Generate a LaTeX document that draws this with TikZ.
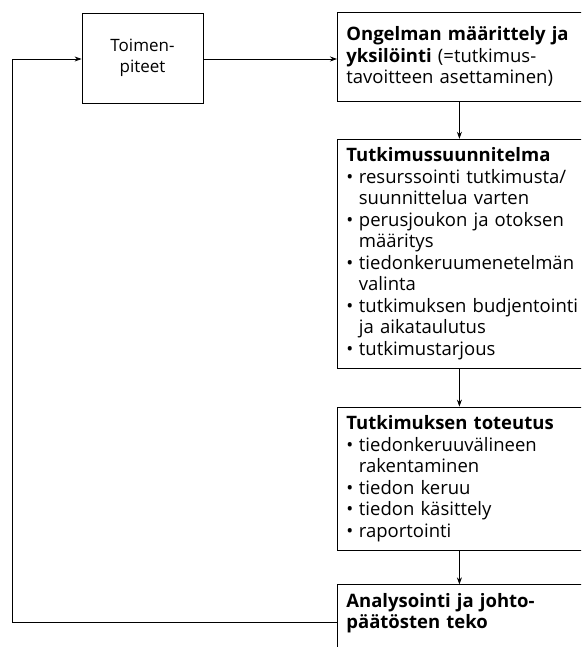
\documentclass[tikz,border=0pt]{standalone}
\usepackage{fontspec}
\setmainfont{Open Sans}
\usetikzlibrary{arrows.meta, positioning}

\newcommand{\pallo}{\textbullet\hspace{0.3em}}
\newcommand{\jatko}{\phantom{\textbullet\hspace{0.3em}}}

\begin{document}
\begin{tikzpicture}[
    x=1pt, y=-1pt,
    node distance=38pt,
    phase/.style={draw, thick, text width=236pt, align=left, inner xsep=9pt, inner ysep=8.5pt, font=\fontsize{18.5}{21.5}\selectfont},
    action/.style={draw, thick, minimum width=121pt, minimum height=90pt, align=center, font=\fontsize{17}{21}\selectfont},
    arrow/.style={-{Stealth[length=7pt, width=5pt]}, thick}
]
\useasboundingbox (0,0) rectangle (581,647);
\clip (0,0) rectangle (581,647);

\node[action] (toimet) at (142.5,58) {Toimen-\\piteet};

\node[phase, anchor=north west, inner ysep=14.5pt] (ongelma) at (337,12)
    {\textbf{Ongelman määrittely ja}\\
     \textbf{yksilöinti} (=tutkimus-\\
     tavoitteen asettaminen)};

\node[phase, below=37pt of ongelma] (suunnitelma)
    {\textbf{Tutkimussuunnitelma}\\
     \pallo resurssointi tutkimusta/\\
     \jatko suunnittelua varten\\
     \pallo perusjoukon ja otoksen\\
     \jatko määritys\\
     \pallo tiedonkeruumenetelmän\\
     \jatko valinta\\
     \pallo tutkimuksen budjentointi\\
     \jatko ja aikataulutus\\
     \pallo tutkimustarjous};

\node[phase, below=38pt of suunnitelma] (toteutus)
    {\textbf{Tutkimuksen toteutus}\\
     \pallo tiedonkeruuvälineen\\
     \jatko rakentaminen\\
     \pallo tiedon keruu\\
     \pallo tiedon käsittely\\
     \pallo raportointi};

\node[phase, below=34pt of toteutus] (analyysi)
    {\textbf{Analysointi ja johto-}\\
     \textbf{päätösten teko}\\
     \mbox{}};

\coordinate (paluu) at (12,59);
\coordinate (kulma) at (12,622);

\draw[arrow] (toimet.east |- paluu) -- (paluu -| ongelma.west);
\draw[arrow] ([xshift=-5pt]ongelma.south) -- ([xshift=-5pt]suunnitelma.north);
\draw[arrow] ([xshift=-5pt]suunnitelma.south) -- ([xshift=-5pt]toteutus.north);
\draw[arrow] ([xshift=-5pt]toteutus.south) -- ([xshift=-5pt]analyysi.north);
\draw[arrow] (analyysi.west |- kulma) -- (kulma) -- (paluu) -- (paluu -| toimet.west);

\end{tikzpicture}
\end{document}
